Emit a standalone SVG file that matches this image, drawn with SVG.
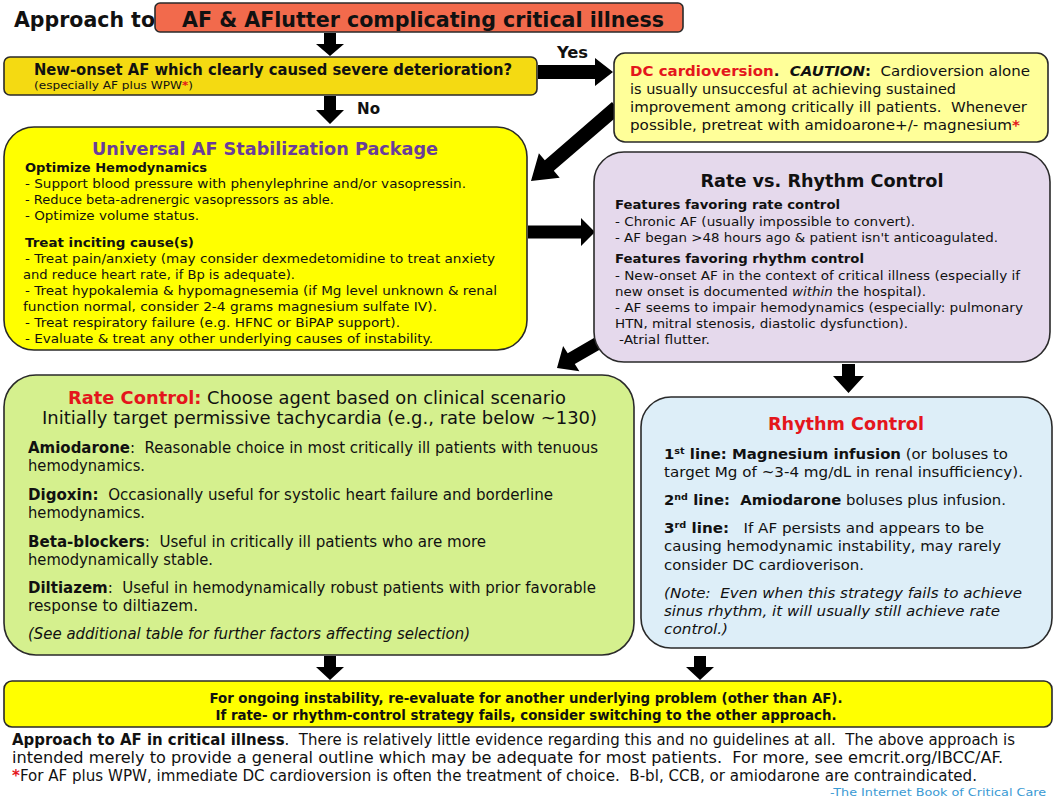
<svg xmlns="http://www.w3.org/2000/svg" width="1058" height="800" viewBox="0 0 1058 800">
<style>
.v{font-family:'DejaVu Sans',Verdana,sans-serif;fill:#111}
.t{font-family:'DejaVu Sans Condensed','Liberation Sans Narrow','Liberation Sans',sans-serif;fill:#111}
.b{font-weight:bold}
.i{font-style:italic}
.red{fill:#E4161C}
.box{stroke:#2a2a2a;stroke-width:1.6}
.arrow{fill:#000}
.sup{font-size:9px}
</style>
<rect width="1058" height="800" fill="#fff"/>
<g id="connectors">
<path class="arrow" d="M324,33 H336 V44 H344 L330,56 L316,44 H324 Z"/>
<path class="arrow" d="M324,96 H336 V110 H344 L330,124 L316,110 H324 Z"/>
<path class="arrow" d="M538,65 H595 V58 L613,72 L595,86 V79 H538 Z"/>
<path class="arrow" d="M621,113 L553.8,170.8 L559.7,177.7 L531,181 L538.9,153.3 L544.8,160.2 L612,102 Z"/>
<path class="arrow" d="M528,225.5 H581 V218 L595,232 L581,246 V238.5 H528 Z"/>
<path class="arrow" d="M603.5,347.4 L574.8,364.1 L579.4,371.3 L557,368 L563.1,346.1 L567.7,353.3 L596.5,336.6 Z"/>
<path class="arrow" d="M842,364 H855 V376 H864 L848.5,393 L833,376 H842 Z"/>
<path class="arrow" d="M324,656 H336 V667 H344 L330,680 L316,667 H324 Z"/>
<path class="arrow" d="M694,656 H706 V667 H714 L700,680 L686,667 H694 Z"/>
<text class="t b" x="557" y="58" font-size="16" textLength="31" lengthAdjust="spacingAndGlyphs">Yes</text>
<text class="t b" x="357" y="114" font-size="16" textLength="23" lengthAdjust="spacingAndGlyphs">No</text>
</g>
<g id="title">
<text class="t b" x="14" y="27" font-size="22" textLength="141" lengthAdjust="spacingAndGlyphs">Approach to</text>
<rect class="box" x="155" y="3" width="528" height="29" rx="5" fill="#F26A4C"/>
<text class="t b" x="182" y="27" font-size="22" textLength="482" lengthAdjust="spacingAndGlyphs">AF &amp; AFlutter complicating critical illness</text>
</g>
<g id="question">
<rect class="box" x="4" y="57" width="533" height="38" rx="6" fill="#F4DA12"/>
<text class="t b" x="34" y="75" font-size="16" textLength="478" lengthAdjust="spacingAndGlyphs">New-onset AF which clearly caused severe deterioration?</text>
<text class="t" x="34" y="89" font-size="11" textLength="159" lengthAdjust="spacingAndGlyphs">(especially AF plus WPW<tspan class="red b">*</tspan>)</text>
</g>
<g id="dc-cardioversion">
<rect class="box" x="614" y="53" width="434" height="89" rx="11" fill="#FFFF99"/>
<text class="v" x="630" y="76" font-size="14" textLength="400" lengthAdjust="spacingAndGlyphs" xml:space="preserve"><tspan class="red b">DC cardioversion</tspan><tspan class="b">.  </tspan><tspan class="b i">CAUTION</tspan><tspan class="b">:</tspan>  Cardioversion alone</text>
<text class="v" x="630" y="94" font-size="14" textLength="326" lengthAdjust="spacingAndGlyphs">is usually unsuccesful at achieving sustained</text>
<text class="v" x="630" y="112" font-size="14" textLength="397" lengthAdjust="spacingAndGlyphs" xml:space="preserve">improvement among critically ill patients.  Whenever</text>
<text class="v" x="630" y="130" font-size="14" textLength="390" lengthAdjust="spacingAndGlyphs">possible, pretreat with amidoarone+/- magnesium<tspan class="red b">*</tspan></text>
</g>
<g id="universal">
<rect class="box" x="4" y="127" width="523" height="223" rx="30" fill="#FFFF00"/>
<text class="v b" x="265" y="155" font-size="18" text-anchor="middle" fill="#6A3D9A" style="fill:#6A3D9A" textLength="346" lengthAdjust="spacingAndGlyphs">Universal AF Stabilization Package</text>
<text class="v b" x="25" y="172" font-size="13" textLength="182" lengthAdjust="spacingAndGlyphs">Optimize Hemodynamics</text>
<text class="v" x="25" y="188" font-size="13" textLength="441" lengthAdjust="spacingAndGlyphs">- Support blood pressure with phenylephrine and/or vasopressin.</text>
<text class="v" x="25" y="204" font-size="13" textLength="309" lengthAdjust="spacingAndGlyphs">- Reduce beta-adrenergic vasopressors as able.</text>
<text class="v" x="25" y="220" font-size="13" textLength="174" lengthAdjust="spacingAndGlyphs">- Optimize volume status.</text>
<text class="v b" x="25" y="247" font-size="13" textLength="169" lengthAdjust="spacingAndGlyphs">Treat inciting cause(s)</text>
<text class="v" x="25" y="263" font-size="13" textLength="470" lengthAdjust="spacingAndGlyphs">- Treat pain/anxiety (may consider dexmedetomidine to treat anxiety</text>
<text class="v" x="23" y="279" font-size="13" textLength="272" lengthAdjust="spacingAndGlyphs">and reduce heart rate, if Bp is adequate).</text>
<text class="v" x="25" y="295" font-size="13" textLength="472" lengthAdjust="spacingAndGlyphs">- Treat hypokalemia &amp; hypomagnesemia (if Mg level unknown &amp; renal</text>
<text class="v" x="23" y="311" font-size="13" textLength="414" lengthAdjust="spacingAndGlyphs">function normal, consider 2-4 grams magnesium sulfate IV).</text>
<text class="v" x="25" y="327" font-size="13" textLength="375" lengthAdjust="spacingAndGlyphs">- Treat respiratory failure (e.g. HFNC or BiPAP support).</text>
<text class="v" x="25" y="343" font-size="13" textLength="408" lengthAdjust="spacingAndGlyphs">- Evaluate &amp; treat any other underlying causes of instability.</text>
</g>
<g id="rate-vs-rhythm">
<rect class="box" x="594" y="152" width="456" height="210" rx="30" fill="#E5D9EC"/>
<text class="v b" x="822" y="187" font-size="18" text-anchor="middle" textLength="243" lengthAdjust="spacingAndGlyphs">Rate vs. Rhythm Control</text>
<text class="v b" x="615" y="209" font-size="13" textLength="225" lengthAdjust="spacingAndGlyphs">Features favoring rate control</text>
<text class="v" x="615" y="226" font-size="13" textLength="300" lengthAdjust="spacingAndGlyphs">- Chronic AF (usually impossible to convert).</text>
<text class="v" x="615" y="242" font-size="13" textLength="383" lengthAdjust="spacingAndGlyphs">- AF began &gt;48 hours ago &amp; patient isn't anticoagulated.</text>
<text class="v b" x="615" y="263" font-size="13" textLength="249" lengthAdjust="spacingAndGlyphs">Features favoring rhythm control</text>
<text class="v" x="615" y="280" font-size="13" textLength="405" lengthAdjust="spacingAndGlyphs">- New-onset AF in the context of critical illness (especially if</text>
<text class="v" x="615" y="296" font-size="13" textLength="311" lengthAdjust="spacingAndGlyphs">new onset is documented <tspan class="i">within</tspan> the hospital).</text>
<text class="v" x="615" y="312" font-size="13" textLength="408" lengthAdjust="spacingAndGlyphs">- AF seems to impair hemodynamics (especially: pulmonary</text>
<text class="v" x="615" y="328" font-size="13" textLength="293" lengthAdjust="spacingAndGlyphs">HTN, mitral stenosis, diastolic dysfunction).</text>
<text class="v" x="619" y="344" font-size="13" textLength="91" lengthAdjust="spacingAndGlyphs">-Atrial flutter.</text>
</g>
<g id="rate-control">
<rect class="box" x="4" y="375" width="630" height="280" rx="32" fill="#D5F08E"/>
<text class="t" x="68" y="404" font-size="18.5" textLength="498" lengthAdjust="spacingAndGlyphs"><tspan class="red b">Rate Control:</tspan> Choose agent based on clinical scenario</text>
<text class="t" x="42" y="424" font-size="18.5" textLength="555" lengthAdjust="spacingAndGlyphs">Initially target permissive tachycardia (e.g., rate below ~130)</text>
<text class="t" x="28" y="453" font-size="15.5" textLength="570" lengthAdjust="spacingAndGlyphs" xml:space="preserve"><tspan class="b">Amiodarone</tspan>:  Reasonable choice in most critically ill patients with tenuous</text>
<text class="t" x="28" y="471" font-size="15.5" textLength="117" lengthAdjust="spacingAndGlyphs">hemodynamics.</text>
<text class="t" x="28" y="500" font-size="15.5" textLength="525" lengthAdjust="spacingAndGlyphs" xml:space="preserve"><tspan class="b">Digoxin:</tspan>  Occasionally useful for systolic heart failure and borderline</text>
<text class="t" x="28" y="518" font-size="15.5" textLength="117" lengthAdjust="spacingAndGlyphs">hemodynamics.</text>
<text class="t" x="28" y="547" font-size="15.5" textLength="458" lengthAdjust="spacingAndGlyphs" xml:space="preserve"><tspan class="b">Beta-blockers</tspan>:  Useful in critically ill patients who are more</text>
<text class="t" x="28" y="565" font-size="15.5" textLength="185" lengthAdjust="spacingAndGlyphs">hemodynamically stable.</text>
<text class="t" x="28" y="593" font-size="15.5" textLength="568" lengthAdjust="spacingAndGlyphs" xml:space="preserve"><tspan class="b">Diltiazem</tspan>:  Useful in hemodynamically robust patients with prior favorable</text>
<text class="t" x="28" y="611" font-size="15.5" textLength="170" lengthAdjust="spacingAndGlyphs">response to diltiazem.</text>
<text class="t i" x="28" y="639" font-size="15.5" textLength="442" lengthAdjust="spacingAndGlyphs">(See additional table for further factors affecting selection)</text>
</g>
<g id="rhythm-control">
<rect class="box" x="641" y="397" width="411" height="251" rx="30" fill="#DDEEF8"/>
<text class="v b red" x="846" y="430" font-size="18" text-anchor="middle" textLength="156" lengthAdjust="spacingAndGlyphs">Rhythm Control</text>
<text class="v" x="664" y="459" font-size="14" textLength="344" lengthAdjust="spacingAndGlyphs"><tspan class="b">1<tspan class="sup" dy="-5">st</tspan><tspan dy="5"> line: Magnesium infusion</tspan></tspan> (or boluses to</text>
<text class="v" x="664" y="477" font-size="14" textLength="359" lengthAdjust="spacingAndGlyphs">target Mg of ~3-4 mg/dL in renal insufficiency).</text>
<text class="v" x="664" y="505" font-size="14" textLength="342" lengthAdjust="spacingAndGlyphs" xml:space="preserve"><tspan class="b">2<tspan class="sup" dy="-5">nd</tspan><tspan dy="5"> line:  Amiodarone</tspan></tspan> boluses plus infusion.</text>
<text class="v" x="664" y="533" font-size="14" textLength="320" lengthAdjust="spacingAndGlyphs" xml:space="preserve"><tspan class="b">3<tspan class="sup" dy="-5">rd</tspan><tspan dy="5"> line:</tspan></tspan>   If AF persists and appears to be</text>
<text class="v" x="664" y="551" font-size="14" textLength="337" lengthAdjust="spacingAndGlyphs">causing hemodynamic instability, may rarely</text>
<text class="v" x="664" y="570" font-size="14" textLength="200" lengthAdjust="spacingAndGlyphs">consider DC cardioverison.</text>
<text class="v i" x="664" y="598" font-size="14" textLength="358" lengthAdjust="spacingAndGlyphs" xml:space="preserve">(Note:  Even when this strategy fails to achieve</text>
<text class="v i" x="664" y="616" font-size="14" textLength="336" lengthAdjust="spacingAndGlyphs">sinus rhythm, it will usually still achieve rate</text>
<text class="v i" x="664" y="634" font-size="14" textLength="64" lengthAdjust="spacingAndGlyphs">control.)</text>
</g>
<g id="bottom-note">
<rect class="box" x="4" y="681" width="1048" height="46" rx="8" fill="#FFFF00"/>
<text class="t b" x="526" y="703" font-size="13.5" text-anchor="middle" textLength="633" lengthAdjust="spacingAndGlyphs">For ongoing instability, re-evaluate for another underlying problem (other than AF).</text>
<text class="t b" x="526" y="720" font-size="13.5" text-anchor="middle" textLength="621" lengthAdjust="spacingAndGlyphs">If rate- or rhythm-control strategy fails, consider switching to the other approach.</text>
</g>
<g id="footer">
<text class="t" x="12" y="745" font-size="15.5" textLength="1003" lengthAdjust="spacingAndGlyphs" xml:space="preserve"><tspan class="b">Approach to AF in critical illness</tspan>.  There is relatively little evidence regarding this and no guidelines at all.  The above approach is</text>
<text class="t" x="12" y="763" font-size="15.5" textLength="991" lengthAdjust="spacingAndGlyphs" xml:space="preserve">intended merely to provide a general outline which may be adequate for most patients.  For more, see emcrit.org/IBCC/AF.</text>
<text class="t" x="12" y="781" font-size="15.5" textLength="965" lengthAdjust="spacingAndGlyphs" xml:space="preserve"><tspan class="red b">*</tspan>For AF plus WPW, immediate DC cardioversion is often the treatment of choice.  B-bl, CCB, or amiodarone are contraindicated.</text>
<text class="t" x="1046" y="796" font-size="11" text-anchor="end" style="fill:#3A9AD4" textLength="216" lengthAdjust="spacingAndGlyphs">-The Internet Book of Critical Care</text>
</g>
</svg>
